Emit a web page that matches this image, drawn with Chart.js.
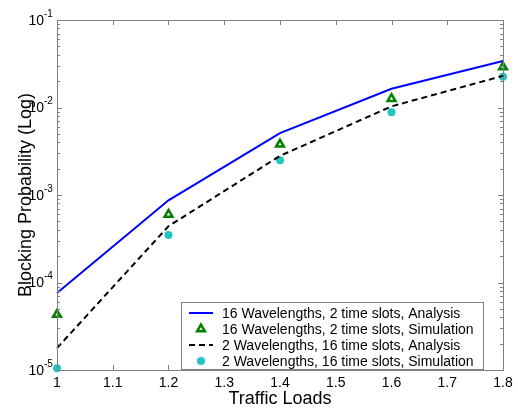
<!DOCTYPE html>
<html>
<head>
<meta charset="utf-8">
<script src="https://cdn.jsdelivr.net/npm/chart.js@4.4.1/dist/chart.umd.min.js"></script>
<style>
  html, body { margin: 0; padding: 0; background: #fff; }
  #wrap { width: 518px; height: 409px; }
</style>
</head>
<body>
<div id="wrap"><canvas id="blockingChart"></canvas></div>
<script>
'use strict';

// data
const trafficLoads = [1.0, 1.2, 1.4, 1.6, 1.8];
const analysis16w2t = [7.6e-5, 8.7e-4, 5.1e-3, 1.64e-2, 3.4e-2];
const simulation16w2t = [4.3e-5, 6.0e-4, 3.8e-3, 1.26e-2, 2.9e-2];
const analysis2w16t = [1.78e-5, 4.4e-4, 2.8e-3, 1.03e-2, 2.3e-2];
const simulation2w16t = [1.05e-5, 3.5e-4, 2.5e-3, 8.8e-3, 2.24e-2];

const seriesNames = [
  '16 Wavelengths, 2 time slots, Analysis',
  '16 Wavelengths, 2 time slots, Simulation',
  '2 Wavelengths, 16 time slots, Analysis',
  '2 Wavelengths, 16 time slots, Simulation'
];

const xTickValues = [1, 1.1, 1.2, 1.3, 1.4, 1.5, 1.6, 1.7, 1.8];
const yDecadeExponents = [-5, -4, -3, -2, -1];

const FONT = '"Liberation Sans", Arial, sans-serif';
const colors = {
  blue: '#0000ff',
  black: '#000000',
  green: '#008000',
  cyan: '#22c4c4',
  axis: '#808080'
};

const toPoints = (ys) => trafficLoads.map((x, i) => ({x: x, y: ys[i]}));

// axes box + inward ticks + 10^n labels, matlab style
const axesPlugin = {
  id: 'axesPlugin',
  afterDatasetsDraw(chart){
    const {ctx, chartArea: a, scales: {x, y}} = chart;
    ctx.save();
    ctx.strokeStyle = colors.axis;
    ctx.lineWidth = 1;
    ctx.strokeRect(Math.round(a.left) + 0.5, Math.round(a.top) + 0.5,
      Math.round(a.right - a.left), Math.round(a.bottom - a.top));

    ctx.beginPath();
    xTickValues.forEach(v => {
      const px = Math.round(x.getPixelForValue(v)) + 0.5;
      ctx.moveTo(px, a.bottom); ctx.lineTo(px, a.bottom - 5);
      ctx.moveTo(px, a.top); ctx.lineTo(px, a.top + 5);
    });
    yDecadeExponents.forEach(e => {
      const maxM = e === -1 ? 1 : 9;
      for(let m = 1; m <= maxM; m++){
        const py = Math.round(y.getPixelForValue(m * Math.pow(10, e))) + 0.5;
        const len = m === 1 ? 5 : 3;
        ctx.moveTo(a.left, py); ctx.lineTo(a.left + len, py);
        ctx.moveTo(a.right, py); ctx.lineTo(a.right - len, py);
      }
    });
    ctx.stroke();

    ctx.fillStyle = '#000';
    yDecadeExponents.forEach(e => {
      const py = y.getPixelForValue(Math.pow(10, e));
      ctx.font = '14px ' + FONT;
      ctx.textAlign = 'right';
      ctx.textBaseline = 'middle';
      ctx.fillText('10', 44, py + 1);
      ctx.font = '10px ' + FONT;
      ctx.textAlign = 'left';
      ctx.fillText('-' + Math.abs(e), 44, py - 6);
    });
    ctx.restore();
  }
};

// legend box inside the plot, bottom right
const legendPlugin = {
  id: 'legendPlugin',
  afterDraw(chart){
    const {ctx} = chart;
    const box = {left: 181, top: 302, right: 483, bottom: 369};
    const rowY = [313, 329, 345, 361];
    ctx.save();
    ctx.fillStyle = '#fff';
    ctx.fillRect(box.left, box.top, box.right - box.left, box.bottom - box.top);
    ctx.strokeStyle = colors.axis;
    ctx.lineWidth = 1;
    ctx.strokeRect(box.left + 0.5, box.top + 0.5, box.right - box.left, box.bottom - box.top);

    chart.data.datasets.forEach((ds, i) => {
      const cy = rowY[i];
      if(ds.showLine){
        ctx.strokeStyle = ds.borderColor;
        ctx.lineWidth = ds.borderWidth;
        ctx.setLineDash(ds.borderDash || []);
        ctx.beginPath();
        ctx.moveTo(189, cy); ctx.lineTo(213, cy);
        ctx.stroke();
        ctx.setLineDash([]);
      }else{
        ctx.fillStyle = ds.pointBackgroundColor;
        ctx.strokeStyle = ds.pointBorderColor;
        ctx.lineWidth = ds.pointBorderWidth;
        Chart.helpers.drawPoint(ctx, {
          pointStyle: ds.pointStyle,
          radius: ds.pointRadius,
          borderWidth: ds.pointBorderWidth
        }, 201, cy);
      }
      ctx.fillStyle = '#000';
      ctx.font = '14px ' + FONT;
      ctx.textAlign = 'left';
      ctx.textBaseline = 'middle';
      ctx.fillText(seriesNames[i], 222, cy + 1);
    });
    ctx.restore();
  }
};

new Chart(document.getElementById('blockingChart'), {
  type: 'scatter',
  data: {
    datasets: [
      {
        label: seriesNames[0],
        data: toPoints(analysis16w2t),
        showLine: true,
        borderColor: colors.blue,
        borderWidth: 2,
        pointRadius: 0,
        clip: false
      },
      {
        label: seriesNames[1],
        data: toPoints(simulation16w2t),
        showLine: false,
        pointStyle: 'triangle',
        pointRadius: 4.5,
        pointBorderWidth: 2.5,
        pointBorderColor: colors.green,
        pointBackgroundColor: '#fff',
        clip: false
      },
      {
        label: seriesNames[2],
        data: toPoints(analysis2w16t),
        showLine: true,
        borderColor: colors.black,
        borderWidth: 2,
        borderDash: [6, 4],
        pointRadius: 0,
        clip: false
      },
      {
        label: seriesNames[3],
        data: toPoints(simulation2w16t),
        showLine: false,
        pointStyle: 'circle',
        pointRadius: 4,
        pointBorderWidth: 0,
        pointBorderColor: colors.cyan,
        pointBackgroundColor: colors.cyan,
        clip: false
      }
    ]
  },
  options: {
    responsive: true,
    maintainAspectRatio: false,
    animation: false,
    layout: {padding: {top: 20, right: 15, left: 0, bottom: 0}},
    plugins: {
      legend: {display: false},
      tooltip: {enabled: false}
    },
    scales: {
      x: {
        type: 'linear',
        min: 1,
        max: 1.8,
        afterBuildTicks: (scale) => { scale.ticks = xTickValues.map(v => ({value: v})); },
        afterFit: (scale) => { scale.height = 39; },
        grid: {display: false, drawTicks: false},
        border: {display: false},
        ticks: {
          color: '#000',
          padding: 5,
          maxRotation: 0,
          autoSkip: false,
          font: {family: FONT, size: 14},
          callback: (v) => String(v)
        },
        title: {
          display: true,
          text: 'Traffic Loads',
          color: '#000',
          padding: 0,
          font: {family: FONT, size: 18, lineHeight: 1.1}
        }
      },
      y: {
        type: 'logarithmic',
        min: 1e-5,
        max: 1e-1,
        afterFit: (scale) => { scale.width = 57; },
        grid: {display: false, drawTicks: false},
        border: {display: false},
        ticks: {display: false},
        title: {
          display: true,
          text: 'Blocking Probability (Log)',
          color: '#000',
          padding: {top: 15, bottom: 0},
          font: {family: FONT, size: 18}
        }
      }
    }
  },
  plugins: [axesPlugin, legendPlugin]
});
</script>
</body>
</html>
